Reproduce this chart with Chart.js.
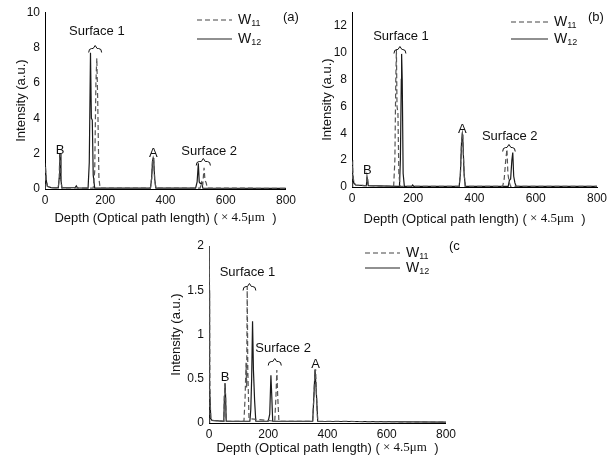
<!DOCTYPE html>
<html>
<head>
<meta charset="UTF-8">
<title>Intensity profiles</title>
<script src="https://cdn.jsdelivr.net/npm/chart.js"></script>
<style>
    body { margin: 0; background: #fff; }
    #wrap { position: relative; width: 613px; height: 460px; background: #fff; }
    canvas { position: absolute; }
    #ca { left: 0; top: 0; }
    #cb { left: 300px; top: 0; }
    #cc { left: 160px; top: 230px; }
</style>
</head>
<body>
<div id="wrap">
    <canvas id="ca" width="300" height="230"></canvas>
    <canvas id="cb" width="313" height="230"></canvas>
    <canvas id="cc" width="300" height="230"></canvas>
</div>
<script>
// depth in units of 4.5 um, intensity in a.u. -- [depth, intensity]
const aW11 = [[0,0],[1,1.3],[4,0.5],[8,0.15],[20,0.08],[44,0.06],[47,0.6],[49,2.0],[51,2.0],[53,0.5],[56,0.06],
    [160,0.05],[165,1.0],[169,6.0],[172,7.4],[175,5.0],[179,0.6],[183,0.05],
    [350,0.05],[354,0.6],[357,1.6],[359,1.75],[361,1.6],[364,0.6],[368,0.05],
    [515,0.05],[520,0.4],[524,0.3],[528,1.2],[531,0.5],[535,0.35],[539,0.05],[800,0.04]];
const aW12 = [[0,0],[1,1.45],[4,0.5],[8,0.15],[20,0.08],[44,0.06],[47,0.6],[49,2.0],[51,2.0],[53,0.5],[56,0.06],
    [100,0.08],[104,0.18],[108,0.06],[143,0.05],[147,1.5],[151,7.7],[154,4.0],[157,3.9],[160,0.8],[165,0.05],
    [350,0.05],[354,0.6],[357,1.6],[359,1.75],[361,1.6],[364,0.6],[368,0.05],
    [500,0.05],[505,0.4],[509,1.45],[512,0.4],[516,0.3],[520,0.35],[524,0.05],[800,0.04]];

const bW11 = [[0,0],[1,1.9],[3,1.0],[6,0.3],[12,0.15],[40,0.1],[47,0.1],[49,0.75],[51,0.75],[53,0.1],
    [136,0.05],[140,2.0],[143,8.0],[145,10.2],[147,6.0],[150,5.5],[153,1.0],[157,0.05],
    [350,0.05],[354,1.0],[358,3.5],[360,3.9],[362,3.5],[366,1.0],[370,0.05],
    [492,0.05],[497,0.6],[502,2.0],[506,2.8],[509,1.0],[513,0.4],[518,0.05],[800,0.04]];
const bW12 = [[0,0],[1,2.0],[3,1.0],[6,0.3],[12,0.15],[40,0.1],[47,0.1],[49,0.75],[51,0.75],[53,0.1],
    [155,0.05],[158,2.0],[161,8.0],[162,9.9],[164,8.0],[167,1.0],[171,0.05],[195,0.05],[198,0.15],[202,0.05],
    [350,0.05],[354,1.0],[358,3.5],[360,3.9],[362,3.5],[366,1.0],[370,0.05],
    [510,0.05],[514,0.5],[518,0.6],[522,2.0],[525,2.56],[528,0.8],[532,0.3],[536,0.05],[800,0.04]];

const cW11 = [[0,0],[1,2.0],[3,0.4],[6,0.05],[10,0.03],[50,0.02],[52,0.3],[54,0.45],[56,0.3],[58,0.02],
    [118,0.02],[122,0.3],[125,0.68],[127,0.4],[129,1.54],[131,0.6],[135,0.05],
    [222,0.02],[226,0.3],[229,0.6],[232,0.3],[236,0.02],
    [350,0.02],[354,0.3],[358,0.6],[360,0.6],[363,0.3],[367,0.02],[800,0.01]];
const cW12 = [[0,0],[1,1.5],[3,0.4],[6,0.05],[10,0.03],[50,0.02],[52,0.3],[54,0.45],[56,0.3],[58,0.02],
    [138,0.02],[141,0.15],[144,0.5],[147,1.15],[150,0.6],[154,0.25],[158,0.02],
    [200,0.02],[205,0.1],[209,0.54],[212,0.3],[215,0.02],
    [350,0.02],[354,0.3],[358,0.6],[360,0.6],[363,0.3],[367,0.02],[800,0.01]];

const xTicks = [0, 200, 400, 600, 800];
const seriesNames = ['W', 'W'];
const seriesSubs = ['11', '12'];

const SANS = '"Liberation Sans", Arial, sans-serif';
const SERIF = '"Liberation Serif", "Times New Roman", serif';

// draws the in-plot labels, braces, legend, panel tag and x axis title
const annotPlugin = {
    id: 'annot',
    afterDraw(chart, args, o) {
        const ctx = chart.ctx;
        const xs = chart.scales.x, ys = chart.scales.y;
        ctx.save();
        ctx.fillStyle = '#111';
        ctx.strokeStyle = '#111';
        ctx.font = '13px ' + SANS;
        ctx.textAlign = 'center';
        ctx.textBaseline = 'alphabetic';
        o.texts.forEach(t => {
            ctx.fillText(t.t, xs.getPixelForValue(t.x), ys.getPixelForValue(t.y));
        });
        ctx.lineWidth = 1;
        o.braces.forEach(b => {
            const x1 = xs.getPixelForValue(b.x1), x2 = xs.getPixelForValue(b.x2);
            const y = Math.round(ys.getPixelForValue(b.y)) + 0.5, m = (x1 + x2) / 2;
            ctx.beginPath();
            ctx.moveTo(x1, y + 4);
            ctx.quadraticCurveTo(x1, y, x1 + 3, y);
            ctx.lineTo(m - 2, y);
            ctx.lineTo(m, y - 3);
            ctx.lineTo(m + 2, y);
            ctx.lineTo(x2 - 3, y);
            ctx.quadraticCurveTo(x2, y, x2, y + 4);
            ctx.stroke();
        });
        // legend
        const lg = o.legend;
        [0, 1].forEach(i => {
            const y = i === 0 ? lg.y1 : lg.y2;
            ctx.beginPath();
            ctx.strokeStyle = i === 0 ? '#444' : '#222';
            ctx.setLineDash(i === 0 ? [5, 3] : []);
            ctx.lineWidth = 1.2;
            ctx.moveTo(lg.x, y);
            ctx.lineTo(lg.x + lg.len, y);
            ctx.stroke();
            ctx.setLineDash([]);
            ctx.textAlign = 'left';
            ctx.textBaseline = 'middle';
            ctx.font = '14px ' + SANS;
            ctx.fillText(seriesNames[i], lg.x + lg.len + 6, y);
            const w = ctx.measureText(seriesNames[i]).width;
            ctx.font = '9px ' + SANS;
            ctx.fillText(seriesSubs[i], lg.x + lg.len + 6 + w, y + 4);
        });
        // panel tag
        ctx.font = '13px ' + SANS;
        ctx.textAlign = 'left';
        ctx.textBaseline = 'middle';
        ctx.fillText(o.tag.t, o.tag.x, o.tag.y);
        // x axis title, mixed fonts
        const p1 = 'Depth (Optical path length) (', p2 = ' \u00d7 4.5\u03bcm', p3 = '  )';
        ctx.font = '13px ' + SANS;
        const w1 = ctx.measureText(p1).width, w3 = ctx.measureText(p3).width;
        ctx.font = '13px ' + SERIF;
        const w2 = ctx.measureText(p2).width;
        let x0 = (chart.chartArea.left + chart.chartArea.right) / 2 + o.titleDx - (w1 + w2 + w3) / 2;
        const ty = o.titleY;
        ctx.textBaseline = 'middle';
        ctx.font = '13px ' + SANS;
        ctx.fillText(p1, x0, ty);
        ctx.font = '13px ' + SERIF;
        ctx.fillText(p2, x0 + w1, ty);
        ctx.font = '13px ' + SANS;
        ctx.fillText(p3, x0 + w1 + w2, ty);
        ctx.restore();
    }
};

function makePanel(id, w11, w12, yMax, yStep, yW, xH, pad, annot) {
    return new Chart(document.getElementById(id), {
        type: 'line',
        data: {
            datasets: [{
                label: 'W11',
                data: w11.map(p => ({ x: p[0], y: p[1] })),
                borderColor: '#555',
                borderWidth: 1.2,
                borderDash: [5, 3],
                pointRadius: 0,
                tension: 0
            }, {
                label: 'W12',
                data: w12.map(p => ({ x: p[0], y: p[1] })),
                borderColor: '#1a1a1a',
                borderWidth: 1.2,
                pointRadius: 0,
                tension: 0
            }]
        },
        options: {
            responsive: false,
            animation: false,
            devicePixelRatio: 1,
            layout: { padding: pad },
            plugins: {
                legend: { display: false },
                tooltip: { enabled: false },
                annot: annot
            },
            scales: {
                x: {
                    type: 'linear',
                    min: 0, max: 800,
                    afterBuildTicks: s => { s.ticks = xTicks.map(v => ({ value: v })); },
                    afterFit: s => { s.height = xH; },
                    grid: { display: false, drawTicks: false },
                    border: { color: '#000', width: 1 },
                    ticks: { color: '#111', font: { family: SANS, size: 12 }, padding: 4, maxRotation: 0 }
                },
                y: {
                    min: 0, max: yMax,
                    afterFit: s => { s.width = yW; },
                    grid: { display: false, drawTicks: false },
                    border: { color: '#000', width: 1 },
                    ticks: {
                        stepSize: yStep, includeBounds: false,
                        color: '#111', font: { family: SANS, size: 12 }, padding: 5,
                        callback: v => String(v)
                    },
                    title: { display: true, text: 'Intensity (a.u.)', color: '#111', font: { family: SANS, size: 13 }, padding: 0 }
                }
            }
        },
        plugins: [annotPlugin]
    });
}

makePanel('ca', aW11, aW12, 10, 2, 31, 41, { top: 12, right: 13, left: 14, bottom: 0 }, {
    texts: [{ x: 172, y: 8.7, t: 'Surface 1' }, { x: 50, y: 2.0, t: 'B' }, { x: 360, y: 1.8, t: 'A' }, { x: 545, y: 1.9, t: 'Surface 2' }],
    braces: [{ x1: 145, x2: 188, y: 8.0 }, { x1: 502, x2: 549, y: 1.6 }],
    legend: { x: 197, len: 35, y1: 20, y2: 39 },
    tag: { t: '(a)', x: 283, y: 17 },
    titleY: 218, titleDx: 0
});

makePanel('cb', bW11, bW12, 13, 2, 32, 43, { top: 9, right: 16, left: 20, bottom: 0 }, {
    texts: [{ x: 160, y: 10.9, t: 'Surface 1' }, { x: 50, y: 0.95, t: 'B' }, { x: 360, y: 4.0, t: 'A' }, { x: 515, y: 3.5, t: 'Surface 2' }],
    braces: [{ x1: 137, x2: 176, y: 10.3 }, { x1: 492, x2: 533, y: 3.0 }],
    legend: { x: 211, len: 37, y1: 22, y2: 39 },
    tag: { t: '(b)', x: 288, y: 17 },
    titleY: 219, titleDx: 0
});

makePanel('cc', cW11, cW12, 2, 0.5, 40, 37, { top: 16, right: 7, left: 9, bottom: 0 }, {
    texts: [{ x: 130, y: 1.66, t: 'Surface 1' }, { x: 54, y: 0.48, t: 'B' }, { x: 360, y: 0.62, t: 'A' }, { x: 250, y: 0.8, t: 'Surface 2' }],
    braces: [{ x1: 115, x2: 158, y: 1.55 }, { x1: 200, x2: 244, y: 0.7 }],
    legend: { x: 205, len: 35, y1: 23, y2: 38 },
    tag: { t: '(c)', x: 289, y: 16 },
    titleY: 218, titleDx: 0
});
</script>
</body>
</html>
